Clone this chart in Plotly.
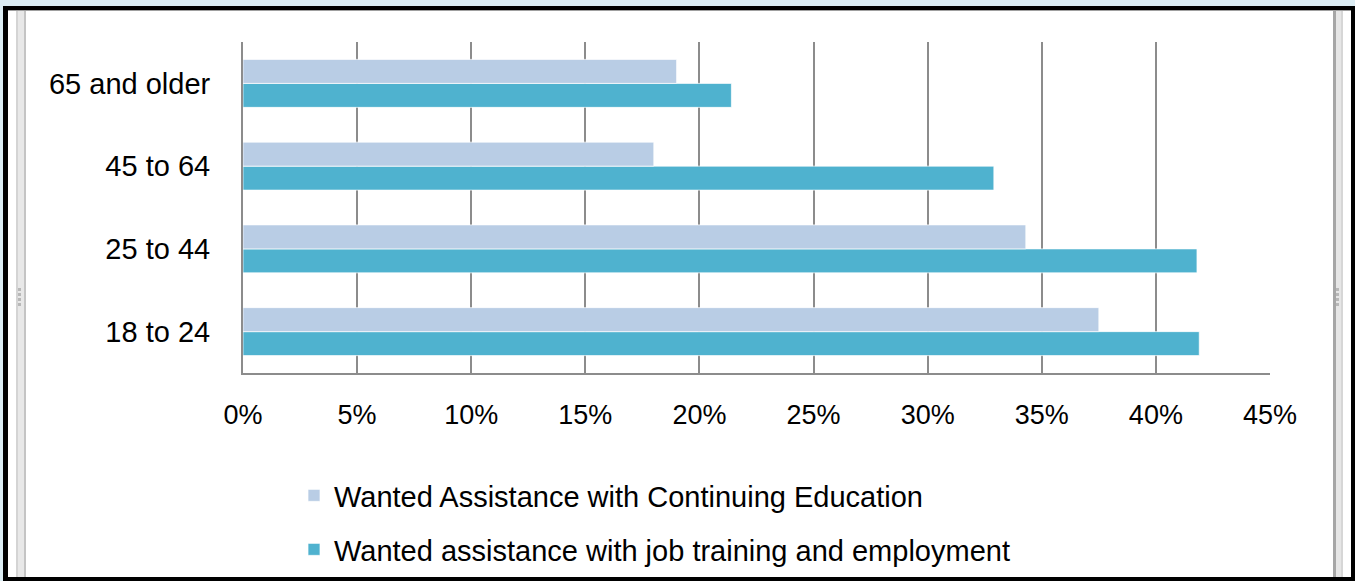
import plotly.graph_objects as go

categories = ["18 to 24", "25 to 44", "45 to 64", "65 and older"]
continuing_education = [0.375, 0.343, 0.180, 0.190]
job_training = [0.419, 0.418, 0.329, 0.214]
series_names = ["Wanted Assistance with Continuing Education",
                "Wanted assistance with job training and employment"]
x_ticks = [0, 0.05, 0.10, 0.15, 0.20, 0.25, 0.30, 0.35, 0.40, 0.45]

W, H = 1355, 581
L, R, T, B = 243, 85, 42, 208
PW, PH = W - L - R, H - T - B

def px(x):
    return (x - L) / PW

def py(y):
    return 1 - (y - T) / PH

FONT = "Liberation Sans, Arial, sans-serif"

fig = go.Figure()
fig.add_trace(go.Bar(
    y=categories, x=job_training, orientation="h", name=series_names[1],
    legend="legend2",
    marker=dict(color="#4fb2cf", line=dict(color="rgba(255,255,255,0.7)", width=1)),
))
fig.add_trace(go.Bar(
    y=categories, x=continuing_education, orientation="h", name=series_names[0],
    legend="legend",
    marker=dict(color="#b9cde5", line=dict(color="rgba(255,255,255,0.7)", width=1)),
))

shapes = []
def rect(x0, y0, x1, y1, fill, layer="below"):
    shapes.append(dict(type="rect", xref="paper", yref="paper",
                       x0=px(x0), x1=px(x1), y0=py(y1), y1=py(y0),
                       fillcolor=fill, line=dict(width=0), layer=layer))

# window frame
rect(3, 6, 1356, 582, "#000000")
rect(8, 10, 1351, 577, "#ffffff")
rect(8, 10, 1351, 11, "#a0a0a0")
rect(16, 11, 26, 577, "#e8e8e8")
rect(16, 11, 18, 577, "#d4d4d4")
rect(24, 11, 26, 577, "#c4c4c4")
rect(1333, 11, 1343, 577, "#e6e6e6")
rect(1333, 11, 1336, 577, "#a6a6a6")
rect(1341, 11, 1343, 577, "#d6d6d6")
for i in range(4):
    rect(18, 288 + i * 5, 21, 291 + i * 5, "#b8b8b8")
    rect(1336, 288 + i * 5, 1339, 291 + i * 5, "#b8b8b8")

legend_style = dict(
    xanchor="left", yanchor="top", itemclick=False,
    bgcolor="rgba(0,0,0,0)", font=dict(family=FONT, size=29, color="#000000"),
)

fig.update_layout(
    width=W, height=H,
    margin=dict(l=L, r=R, t=T, b=B, pad=0, autoexpand=False),
    paper_bgcolor="#dcedf4",
    plot_bgcolor="rgba(0,0,0,0)",
    barmode="group", bargap=0.42, bargroupgap=0,
    font=dict(family=FONT, size=29, color="#000000"),
    shapes=shapes,
    xaxis=dict(
        range=[0, 0.45], tickvals=x_ticks, tickformat=".0%",
        showgrid=True, gridcolor="#8c8c8c", gridwidth=2,
        showline=True, linecolor="#8c8c8c", linewidth=2,
        zeroline=False, ticks="", ticklabelstandoff=17,
        tickfont=dict(family=FONT, size=27, color="#000000"),
        fixedrange=True,
    ),
    yaxis=dict(
        showgrid=False, showline=True, linecolor="#8c8c8c", linewidth=2,
        ticks="", ticklabelstandoff=25,
        tickfont=dict(family=FONT, size=29, color="#000000"),
        fixedrange=True,
    ),
    legend=dict(x=px(294), y=py(470), **legend_style),
    legend2=dict(x=px(294), y=py(524), **legend_style),
    showlegend=True,
)

fig.write_html("out.html", config={"displayModeBar": False},
               post_script="document.body.style.margin='0';document.body.style.overflow='hidden';")
